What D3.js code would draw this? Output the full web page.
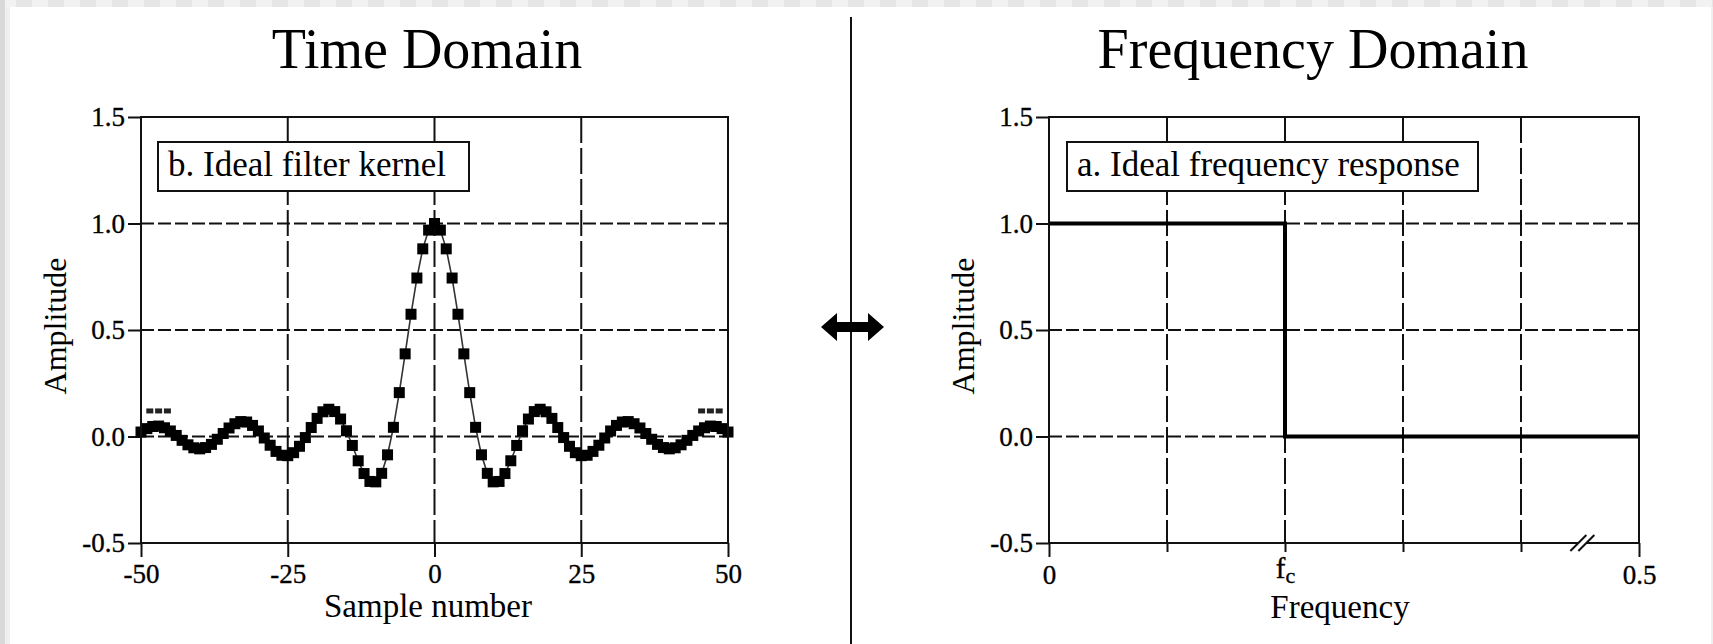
<!DOCTYPE html>
<html>
<head>
<meta charset="utf-8">
<script src="https://cdn.jsdelivr.net/npm/d3@7"></script>
<style>
  html, body { margin: 0; padding: 0; background: #ffffff; }
  svg { display: block; }
  text { font-family: "Liberation Serif", "Times New Roman", serif; fill: #000; }
  .ticklbl { stroke: #000; stroke-width: 0.35px; }
</style>
</head>
<body>
<svg id="chart" width="1713" height="644"></svg>
<script>
// ---- data ----
// Time domain: ideal low-pass filter kernel, samples -50 .. 50
const sampleNumbers = d3.range(-50, 51);
const kernelValues = [
  0.021, 0.037, 0.047, 0.049, 0.041, 0.026, 0.005, -0.018, -0.039, -0.053,
  -0.058, -0.052, -0.037, -0.013, 0.014, 0.040, 0.060, 0.070, 0.068, 0.052,
  0.026, -0.007, -0.041, -0.070, -0.088, -0.090, -0.076, -0.046, -0.005, 0.042,
  0.085, 0.116, 0.128, 0.117, 0.082, 0.027, -0.042, -0.114, -0.174, -0.211,
  -0.213, -0.173, -0.086, 0.043, 0.206, 0.388, 0.574, 0.744, 0.881, 0.969,
  1.000,
  0.969, 0.881, 0.744, 0.574, 0.388, 0.206, 0.043, -0.086, -0.173, -0.213,
  -0.211, -0.174, -0.114, -0.042, 0.027, 0.082, 0.117, 0.128, 0.116, 0.085,
  0.042, -0.005, -0.046, -0.076, -0.090, -0.088, -0.070, -0.041, -0.007, 0.026,
  0.052, 0.068, 0.070, 0.060, 0.040, 0.014, -0.013, -0.037, -0.052, -0.058,
  -0.053, -0.039, -0.018, 0.005, 0.026, 0.041, 0.049, 0.047, 0.037, 0.021
];
// "continues" dots above both ends of the kernel
const continuationLeft = [-48.5, -47, -45.5];
const continuationRight = [45.5, 47, 48.5];
const continuationLevel = 0.12;

// Frequency domain: ideal frequency response (step at the cutoff fc)
const cutoff = 0.2;
const responseFreq = [0, cutoff, cutoff, 0.5];
const responseAmp = [1, 1, 0, 0];

// Axes ticks / labels
const amplitudeTicks = [-0.5, 0, 0.5, 1.0, 1.5];
const amplitudeGrid = [0, 0.5, 1.0];
const sampleTicks = [-50, -25, 0, 25, 50];
const sampleGrid = [-25, 0, 25];
const freqTicks = [0, 0.1, 0.2, 0.3, 0.4, 0.5];
const freqGrid = [0.1, 0.2, 0.3, 0.4];
const freqTickLabels = ["0", "", "fc", "", "", "0.5"];

const titles = ["Time Domain", "Frequency Domain"];
const legends = ["b. Ideal filter kernel", "a. Ideal frequency response"];

// ---- drawing ----
const svg = d3.select("#chart");

// page frame: grey edges, white sheet
svg.append("rect").attr("x", 0).attr("y", 0).attr("width", 1713).attr("height", 644).attr("fill", "#efefef");
const topBand = svg.append("g");
for (let i = 0; i * 16 < 1713; i++) {
  topBand.append("rect").attr("x", i * 16).attr("y", 0).attr("width", 16).attr("height", 7)
    .attr("fill", i % 2 ? "#e6e6e6" : "#f2f2f2");
}
svg.append("rect").attr("x", 0).attr("y", 0).attr("width", 5).attr("height", 644).attr("fill", "#d9d9d9");
svg.append("rect").attr("x", 10).attr("y", 7).attr("width", 1701).attr("height", 637).attr("fill", "#ffffff");

const yScale = d3.scaleLinear().domain([-0.5, 1.5]).range([543, 117]);
const xTime = d3.scaleLinear().domain([-50, 50]).range([141, 728]);
const xFreq = d3.scaleLinear().domain([0, 0.5]).range([1049, 1639]);

const fmt1 = d => d.toFixed(1);
const tickFont = 27;

function drawFrame(g, x, xGridVals) {
  const [x0, x1] = x.range();
  const [yb, yt] = yScale.range();
  // dashed grid
  g.selectAll(".hgrid").data(amplitudeGrid).join("line")
    .attr("x1", x0).attr("x2", x1)
    .attr("y1", d => yScale(d)).attr("y2", d => yScale(d))
    .attr("stroke", "#111").attr("stroke-width", 2).attr("stroke-dasharray", "13,4");
  g.selectAll(".vgrid").data(xGridVals).join("line")
    .attr("x1", d => x(d)).attr("x2", d => x(d))
    .attr("y1", yt).attr("y2", yb)
    .attr("stroke", "#111").attr("stroke-width", 2).attr("stroke-dasharray", "26,5");
}

function drawBox(g, x) {
  const [x0, x1] = x.range();
  const [yb, yt] = yScale.range();
  g.append("rect").attr("x", x0).attr("y", yt).attr("width", x1 - x0).attr("height", yb - yt)
    .attr("fill", "none").attr("stroke", "#111").attr("stroke-width", 2);
}

function drawYAxis(g, x) {
  const ax = g.append("g").attr("transform", `translate(${x.range()[0]},0)`)
    .call(d3.axisLeft(yScale).tickValues(amplitudeTicks).tickFormat(fmt1).tickSize(13).tickPadding(3));
  ax.select(".domain").remove();
  ax.selectAll("line").attr("stroke", "#111").attr("stroke-width", 2);
  ax.selectAll("text").attr("class", "ticklbl").attr("font-size", tickFont).attr("font-family", "Liberation Serif");
  g.append("text")
    .attr("transform", `translate(${x.range()[0] - 75},326) rotate(-90)`)
    .attr("text-anchor", "middle").attr("font-size", 32).text("Amplitude");
}

function drawLegend(g, x, y, w, h, label) {
  g.append("rect").attr("x", x).attr("y", y).attr("width", w).attr("height", h)
    .attr("fill", "#fff").attr("stroke", "#111").attr("stroke-width", 2);
  g.append("text").attr("x", x + 10).attr("y", y + 34).attr("font-size", 35).text(label);
}

// ---------- left panel: time domain ----------
const gL = svg.append("g");
drawFrame(gL, xTime, sampleGrid);

const axL = gL.append("g").attr("transform", `translate(0,${yScale(-0.5)})`)
  .call(d3.axisBottom(xTime).tickValues(sampleTicks).tickFormat(d => String(d)).tickSize(14).tickPadding(7));
axL.select(".domain").remove();
axL.selectAll("line").attr("stroke", "#111").attr("stroke-width", 2);
axL.selectAll("text").attr("class", "ticklbl").attr("font-size", tickFont).attr("font-family", "Liberation Serif");
drawYAxis(gL, xTime);

drawLegend(gL, 158, 142, 311, 49, legends[0]);

const kernel = sampleNumbers.map((n, i) => ({ n, v: kernelValues[i] }));
gL.append("path").datum(kernel)
  .attr("fill", "none").attr("stroke", "#333").attr("stroke-width", 1.6)
  .attr("d", d3.line().x(d => xTime(d.n)).y(d => yScale(d.v)));
const ms = 11;
gL.selectAll(".pt").data(kernel).join("rect")
  .attr("x", d => xTime(d.n) - ms / 2).attr("y", d => yScale(d.v) - ms / 2)
  .attr("width", ms).attr("height", ms).attr("fill", "#000");
gL.selectAll(".dot").data(continuationLeft.concat(continuationRight)).join("rect")
  .attr("x", d => xTime(d) - 3.5).attr("y", yScale(continuationLevel) - 2.5)
  .attr("width", 7).attr("height", 5).attr("fill", "#222");

drawBox(gL, xTime);

gL.append("text").attr("x", 428).attr("y", 617).attr("text-anchor", "middle")
  .attr("font-size", 33).text("Sample number");
gL.append("text").attr("x", 427).attr("y", 68).attr("text-anchor", "middle")
  .attr("font-size", 56).text(titles[0]);

// ---------- right panel: frequency domain ----------
const gR = svg.append("g");
drawFrame(gR, xFreq, freqGrid);

const axR = gR.append("g").attr("transform", `translate(0,${yScale(-0.5)})`)
  .call(d3.axisBottom(xFreq).tickValues(freqTicks).tickFormat("").tickSize(9));
axR.select(".domain").remove();
axR.selectAll("line")
  .attr("y2", d => (d === 0 || d === 0.5) ? 14 : 9)
  .attr("stroke", "#111").attr("stroke-width", 2);
axR.selectAll(".tick").each(function (d, i) {
  const lbl = freqTickLabels[i];
  if (!lbl) return;
  const t = d3.select(this).append("text").attr("y", 41).attr("text-anchor", "middle")
    .attr("class", "ticklbl").attr("fill", "#000").attr("font-size", tickFont)
    .attr("font-family", "Liberation Serif");
  if (lbl === "fc") {
    t.attr("y", 35);
    t.append("tspan").attr("font-size", 29).text("f");
    t.append("tspan").attr("font-size", 22).attr("dy", 5).text("c");
  } else {
    t.text(lbl);
  }
});
drawYAxis(gR, xFreq);

drawLegend(gR, 1067, 142, 411, 49, legends[1]);

const resp = responseFreq.map((f, i) => ({ f, a: responseAmp[i] }));
gR.append("path").datum(resp)
  .attr("fill", "none").attr("stroke", "#000").attr("stroke-width", 4)
  .attr("stroke-linejoin", "miter")
  .attr("d", d3.line().x(d => xFreq(d.f)).y(d => yScale(d.a)));

drawBox(gR, xFreq);

// axis break mark on the frequency axis
const bx = xFreq(0.452), by = yScale(-0.5);
gR.append("rect").attr("x", bx - 4).attr("y", by - 2).attr("width", 8).attr("height", 4).attr("fill", "#fff");
[-4, 4].forEach(off => {
  gR.append("line")
    .attr("x1", bx + off - 8).attr("y1", by + 8)
    .attr("x2", bx + off + 8).attr("y2", by - 8)
    .attr("stroke", "#111").attr("stroke-width", 2);
});

gR.append("text").attr("x", 1340).attr("y", 618).attr("text-anchor", "middle")
  .attr("font-size", 33).text("Frequency");
gR.append("text").attr("x", 1313).attr("y", 68).attr("text-anchor", "middle")
  .attr("font-size", 56).text(titles[1]);

// ---------- divider with two-way arrow ----------
svg.append("line").attr("x1", 851).attr("x2", 851).attr("y1", 17).attr("y2", 644)
  .attr("stroke", "#111").attr("stroke-width", 2);
svg.append("path")
  .attr("d", "M821,327 L837,313 L837,322 L868,322 L868,313 L884,327 L868,341 L868,332 L837,332 L837,341 Z")
  .attr("fill", "#000");
</script>
</body>
</html>
